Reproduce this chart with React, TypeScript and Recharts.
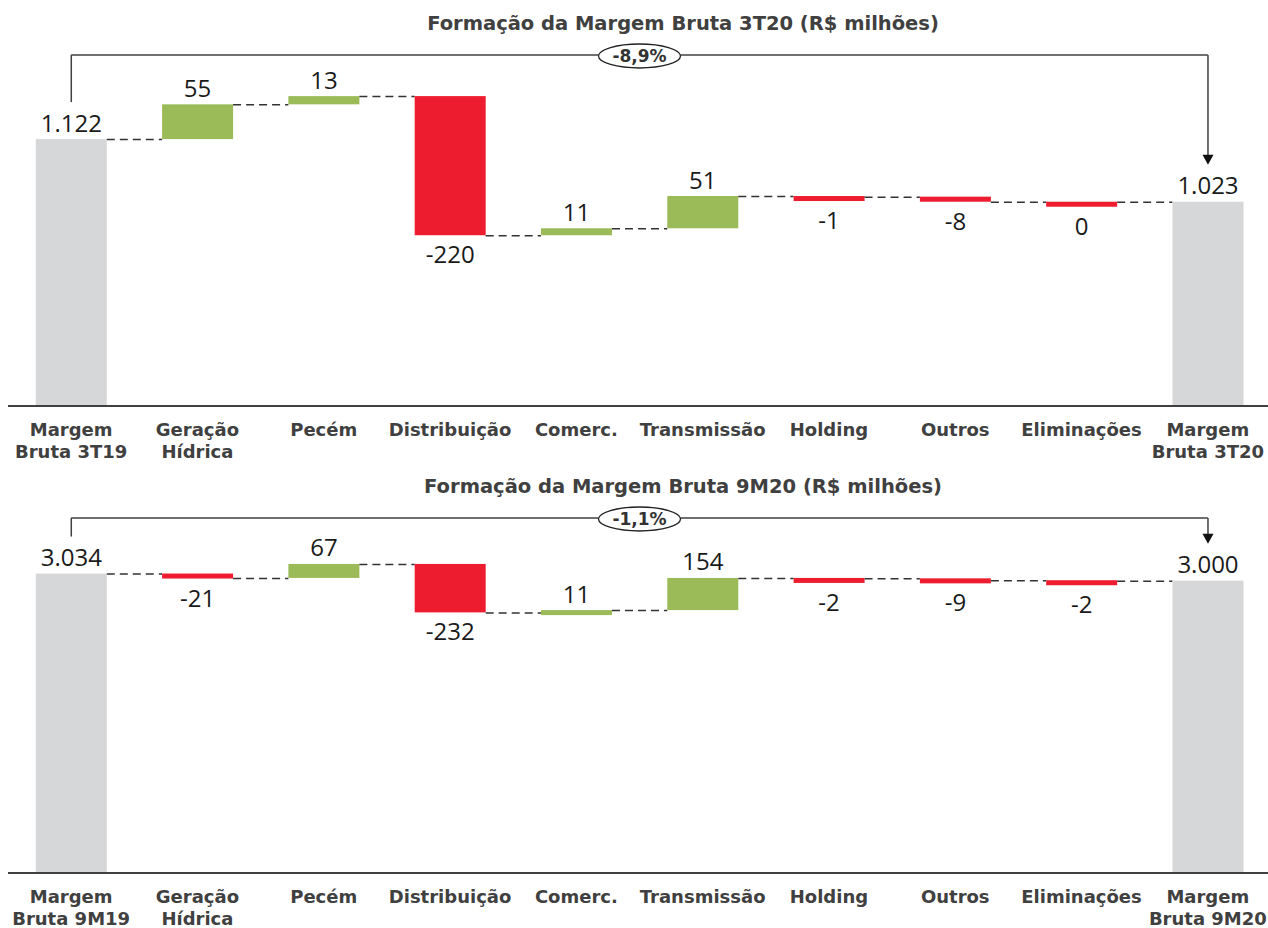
import React from 'react';
import { ComposedChart, Bar, XAxis, YAxis, ReferenceLine } from 'recharts';

// --- data -------------------------------------------------------------
const categories3T = [
  'Margem\nBruta 3T19', 'Geração\nHídrica', 'Pecém', 'Distribuição', 'Comerc.',
  'Transmissão', 'Holding', 'Outros', 'Eliminações', 'Margem\nBruta 3T20',
];
const values3T = [1122, 55, 13, -220, 11, 51, -1, -8, 0, 1023];

const categories9M = [
  'Margem\nBruta 9M19', 'Geração\nHídrica', 'Pecém', 'Distribuição', 'Comerc.',
  'Transmissão', 'Holding', 'Outros', 'Eliminações', 'Margem\nBruta 9M20',
];
const values9M = [3034, -21, 67, -232, 11, 154, -2, -9, -2, 3000];

const titles = [
  'Formação da Margem Bruta 3T20 (R$ milhões)',
  'Formação da Margem Bruta 9M20 (R$ milhões)',
];
const changes = ['-8,9%', '-1,1%'];

// --- styles -----------------------------------------------------------
const W = 1268;
const MARGIN = { top: 55, right: -3, bottom: 0, left: 8 };
const GRAY = '#D6D7D9';
const GREEN = '#9BBB59';
const RED = '#ED1C2E';
const LINE = '#404040';
const MIN_H = 5;

const fmtTotal = (v: number) => v.toString().replace(/\B(?=(\d{3})+(?!\d))/g, '.');

function buildRows(categories: string[], values: number[]) {
  let running = 0;
  return categories.map((name, i) => {
    const v = values[i];
    if (i === 0 || i === categories.length - 1) {
      running = v;
      return { name, kind: 'total', range: v, label: fmtTotal(v) };
    }
    const start = running;
    running += v;
    return {
      name,
      kind: v > 0 ? 'up' : 'down',
      range: [Math.min(start, running), Math.max(start, running)],
      label: String(v),
    };
  });
}

function WaterfallBar(props: any) {
  const { x, y, width, height, index, rows, band } = props;
  const row = rows[index];
  const n = rows.length;
  const h = Math.max(height, MIN_H);
  const cx = x + width / 2;
  const fill = row.kind === 'total' ? GRAY : row.kind === 'up' ? GREEN : RED;
  const levelY = row.kind === 'down' ? y + height : y;
  const above = row.kind !== 'down';

  return (
    <g>
      <rect x={x} y={y} width={width} height={h} fill={fill} />
      {index < n - 1 && (
        <line x1={x + width} x2={x + band} y1={levelY + 0.5} y2={levelY + 0.5}
          stroke="#333" strokeWidth={1.5} strokeDasharray="8 5" />
      )}
      <text x={cx} y={above ? y - 7.5 : y + h + 28} textAnchor="middle"
        fontFamily="Open Sans" fontSize={24} fill="#1a1a1a">
        {row.label}
      </text>
      {index === 0 && (
        <line x1={cx} x2={cx} y1={MARGIN.top} y2={y - 37} stroke={LINE} strokeWidth={1.5} />
      )}
      {index === n - 1 && (
        <g>
          <line x1={cx} x2={cx} y1={MARGIN.top} y2={y - 46} stroke={LINE} strokeWidth={1.5} />
          <polygon points={`${cx - 5.5},${y - 47} ${cx + 5.5},${y - 47} ${cx},${y - 37}`} fill="#111" />
        </g>
      )}
    </g>
  );
}

function CategoryTick(props: any) {
  const { x, y, payload } = props;
  const lines = String(payload.value).split('\n');
  return (
    <text x={x} y={y} textAnchor="middle" fontFamily="DejaVu Sans" fontWeight="bold"
      fontSize={18} fill={LINE}>
      {lines.map((l, i) => (
        <tspan key={i} x={x} y={y + 30 + i * 22}>{l}</tspan>
      ))}
    </text>
  );
}

function ChangeBadge(props: any) {
  const vb = props.viewBox || {};
  const cx = (vb.x ?? 0) + (vb.width ?? 0) / 2;
  const cy = (vb.y ?? 0) + (vb.height ?? 0) / 2 + 1;
  return (
    <g>
      <ellipse cx={cx} cy={cy} rx={41} ry={12} fill="#fff" stroke="#222" strokeWidth={1.3} />
      <text x={cx} y={cy + 6} textAnchor="middle" fontFamily="DejaVu Sans" fontWeight="bold"
        fontSize={17} fill="#333">
        {props.text}
      </text>
    </g>
  );
}

function Waterfall({ categories, values, title, change, height, axisHeight, domain }: any) {
  const rows = buildRows(categories, values);
  const band = (W - MARGIN.left - MARGIN.right) / rows.length;
  return (
    <div style={{ position: 'relative', width: W, height }}>
      <div style={{
        position: 'absolute', top: 12, left: 683, transform: 'translateX(-50%)',
        whiteSpace: 'nowrap', fontFamily: 'DejaVu Sans', fontWeight: 'bold',
        fontSize: 19.5, lineHeight: '24px', color: LINE,
      }}>
        {title}
      </div>
      <ComposedChart width={W} height={height} data={rows} margin={MARGIN} barCategoryGap="22%">
        <XAxis dataKey="name" interval={0} tickLine={false} tickSize={0} tickMargin={0}
          height={axisHeight} axisLine={{ stroke: LINE, strokeWidth: 2 }}
          tick={(p: any) => <CategoryTick {...p} />} />
        <YAxis hide type="number" domain={domain} allowDataOverflow />
        <ReferenceLine
          segment={[{ x: categories[0], y: domain[1] }, { x: categories[categories.length - 1], y: domain[1] }]}
          stroke={LINE} strokeWidth={1.5} ifOverflow="visible"
          label={(p: any) => <ChangeBadge {...p} text={change} />}
        />
        <Bar dataKey="range" isAnimationActive={false}
          shape={(p: any) => <WaterfallBar {...p} rows={rows} band={band} />} />
      </ComposedChart>
    </div>
  );
}

export default function App() {
  return (
    <div style={{ position: 'absolute', left: 0, top: 0, width: W, height: 928, background: '#fff', overflow: 'hidden' }}>
      <Waterfall categories={categories3T} values={values3T} title={titles[0]} change={changes[0]}
        height={463} axisHeight={57} domain={[700, 1255]} />
      <Waterfall categories={categories9M} values={values9M} title={titles[1]} change={changes[1]}
        height={465} axisHeight={55} domain={[1600, 3300]} />
    </div>
  );
}
